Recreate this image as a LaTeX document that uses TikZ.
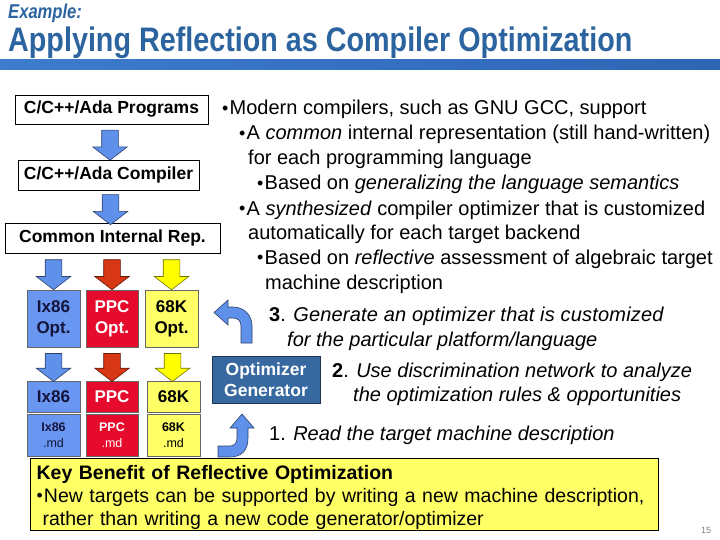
\documentclass[tikz,border=0pt]{standalone}
\usepackage{fontspec}
\setmainfont{Liberation Sans}
\usepackage{graphicx}
\usetikzlibrary{shapes.arrows, positioning, calc}
\definecolor{titleblue}{RGB}{44,100,160}
\definecolor{barlight}{RGB}{70,135,215}
\definecolor{barmid}{RGB}{45,100,180}
\definecolor{bardark}{RGB}{20,35,70}
\definecolor{ixblue}{RGB}{105,150,240}
\definecolor{ppcred}{RGB}{230,10,45}
\definecolor{mkyellow}{RGB}{255,255,102}
\definecolor{arrblue}{RGB}{95,145,235}
\definecolor{arrred}{RGB}{215,55,20}
\definecolor{arryellow}{RGB}{255,255,0}
\definecolor{genblue}{RGB}{55,105,160}
\definecolor{inkblue}{RGB}{20,20,60}
\pgfdeclarehorizontalshading{titlebar}{100bp}{color(0bp)=(barlight); color(78bp)=(barmid); color(100bp)=(bardark)}
\newcommand{\bodyfont}{\fontsize{20}{25}\selectfont}
\newcommand{\bul}{\raisebox{0.04em}{\scalebox{0.9}{\textbullet}}\kern1.2pt}

\begin{document}
\begin{tikzpicture}[x=1pt, y=-1pt,
  flowbox/.style={draw=black, line width=0.8pt, fill=white, minimum height=30pt, inner sep=0pt, font=\fontsize{17.5}{20}\selectfont\bfseries},
  optbox/.style={draw=black!60, line width=0.6pt, fill=#1, minimum width=53pt, minimum height=57pt, inner sep=0pt, align=center, font=\fontsize{17}{21}\selectfont\bfseries},
  tgtbox/.style={optbox=#1, minimum height=31pt},
  mdbox/.style={optbox=#1, minimum height=42pt, font=\fontsize{12.5}{16}\selectfont},
  downarr/.style={single arrow, shape border rotate=270, fill=#1, draw=#1!45!black, line width=0.6pt, inner sep=8pt, single arrow head extend=9pt, single arrow tip angle=105, minimum height=30pt},
  bentarr/.style={fill=arrblue, draw=arrblue!45!black, line width=0.6pt},
  txt/.style={anchor=base west, inner sep=0pt, font=\bodyfont},
  genbox/.style={draw=genblue!50!black, line width=0.8pt, fill=genblue, text=white, minimum width=108pt, minimum height=47pt, align=center, font=\fontsize{17.5}{21}\selectfont\bfseries},
  keybox/.style={draw=black, line width=1.3pt, fill=mkyellow, text width=616pt, minimum height=72pt, inner xsep=6pt, inner ysep=0pt, align=left, font=\fontsize{19.5}{23}\selectfont}
]
\useasboundingbox (0,0) rectangle (720,540);

\node[anchor=base west, inner sep=0pt, text=titleblue, font=\fontsize{20}{22}\selectfont] (example) at (8,19) {\scalebox{0.83}[1]{\bfseries\itshape Example:}};
\node[anchor=base west, inner sep=0pt, text=titleblue, font=\fontsize{34}{36}\selectfont] (title) at (8,52) {\scalebox{0.845}[1]{\bfseries Applying Reflection as Compiler Optimization}};
\shade[shading=titlebar] (0,60) rectangle (720,70);

\node[flowbox, minimum width=193pt, minimum height=29pt] (prog) at (111.5,109.5) {C/C++/Ada Programs};
\node[flowbox, minimum width=181pt] (comp) at (108.5,175) {C/C++/Ada Compiler};
\node[flowbox, minimum width=215pt] (rep) at (112.5,238) {Common Internal Rep.};
\node[downarr=arrblue] (a1) at ($(prog.south)!0.5!(comp.north)$) {};
\node[downarr=arrblue] (a2) at ($(comp.south)!0.5!(rep.north)$) {};

\node[optbox=ixblue, text=inkblue] (optix) at (53.5,318.5) {Ix86\\Opt.};
\node[optbox=ppcred, text=white, minimum width=52pt] (optppc) at (112,318.5) {PPC\\Opt.};
\node[optbox=mkyellow] (optmk) at (171.5,318.5) {68K\\Opt.};
\node[downarr=arrblue] (b1) at ($(rep.south -| optix.north)!0.5!(optix.north)$) {};
\node[downarr=arrred] (b2) at ($(rep.south -| optppc.north)!0.5!(optppc.north)$) {};
\node[downarr=arryellow] (b3) at ($(rep.south -| optmk.north)!0.5!(optmk.north)$) {};

\node[tgtbox=ixblue, text=inkblue, below=34pt of optix] (tgtix) {Ix86};
\node[tgtbox=ppcred, text=white, minimum width=52pt, below=34pt of optppc] (tgtppc) {PPC};
\node[tgtbox=mkyellow, below=34pt of optmk, xshift=2pt] (tgtmk) {68K};
\node[downarr=arrblue, minimum height=28pt] (c1) at ($(optix.south)!0.5!(tgtix.north)$) {};
\node[downarr=arrred, minimum height=28pt] (c2) at ($(optppc.south)!0.5!(tgtppc.north)$) {};
\node[downarr=arryellow, minimum height=28pt] (c3) at ($(optmk.south)!0.5!(tgtmk.north)$) {};

\node[mdbox=ixblue, text=inkblue, below=1pt of tgtix] (mdix) {\textbf{Ix86}\\.md};
\node[mdbox=ppcred, text=white, minimum width=52pt, below=1pt of tgtppc] (mdppc) {\textbf{PPC}\\.md};
\node[mdbox=mkyellow, below=1pt of tgtmk] (mdmk) {\textbf{68K}\\.md};

\node[genbox] (gen) at (266,379.5) {Optimizer\\Generator};
\filldraw[bentarr] (241,343) -- (241,326) .. controls (241,321) and (238,318) .. (233,318) -- (228,318) -- (228,325) -- (214,312.5) -- (228,300) -- (228,307) -- (233,307) .. controls (244,307) and (252,315) .. (252,326) -- (252,343) -- cycle;
\filldraw[bentarr] (218,457) -- (230,457) .. controls (242,457) and (248,450) .. (248,438) -- (248,428) -- (254,428) -- (242,414) -- (230,428) -- (237,428) -- (237,438) .. controls (237,443) and (234,446) .. (230,446) -- (218,446) -- cycle;

\node[txt] (l1) at (222,115) {\bul Modern compilers, such as GNU GCC, support};
\node[txt] (l2) at (239,140) {\bul A \emph{common} internal representation (still hand-written)};
\node[txt] (l3) at (248,165) {for each programming language};
\node[txt] (l4) at (257,190) {\bul Based on \emph{generalizing the language semantics}};
\node[txt] (l5) at (239,215) {\bul A \emph{synthesized} compiler optimizer that is customized};
\node[txt] (l6) at (248,240) {automatically for each target backend};
\node[txt] (l7) at (257,264.5) {\bul Based on \emph{reflective} assessment of algebraic target};
\node[txt] (l8) at (265,289) {machine description};
\node[txt] (s3) at (269,321) {\textbf{3}. {\itshape\addfontfeature{LetterSpace=1.0}Generate an optimizer that is customized}};
\node[txt] (s3b) at (287,346) {\emph{for the particular platform/language}};
\node[txt] (s2) at (332,377) {\textbf{2}. \emph{Use discrimination network to analyze}};
\node[txt] (s2b) at (353,401) {\emph{the optimization rules \& opportunities}};
\node[txt] (s1) at (269,440) {1. \emph{Read the target machine description}};

\node[keybox, anchor=north west] (key) at (30,458) {\rule{0pt}{20pt}\textbf{Key Benefit of Reflective Optimization}\\\bul New targets can be supported by writing a new machine description,\\\hspace*{6pt}rather than writing a new code generator/optimizer};
\node[text=gray, font=\fontsize{9}{10}\selectfont] (page) at (706,530) {15};
\end{tikzpicture}
\end{document}
